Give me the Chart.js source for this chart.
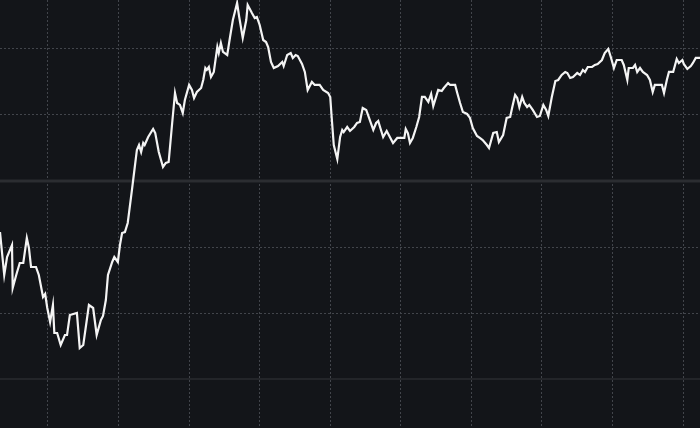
<!DOCTYPE html>
<html>
<head>
<meta charset="utf-8">
<script src="https://cdn.jsdelivr.net/npm/chart.js@4"></script>
<style>
  html, body { margin: 0; padding: 0; background: #131519; }
  canvas { display: block; }
</style>
</head>
<body>
<canvas id="chart" width="700" height="428"></canvas>
<script>
// trading day of each sample (day 0 = first vertical grid line)
const days = [
  -68, -62, -58, -51, -50, -45, -40, -35, -30, -27, -24, -17, -13, -7, -4, -1,
  3, 7, 9, 13, 18, 24, 27, 31, 41, 45, 50, 55, 58, 64, 69, 75, 78, 82, 85, 91,
  94, 99, 102, 105, 109, 113, 119, 123, 126, 129, 132, 135, 137, 142, 149, 152,
  157, 163, 167, 171, 176, 180, 183, 187, 191, 194, 200, 204, 207, 211, 217, 220,
  223, 225, 228, 231, 235, 238, 240, 242, 245, 248, 254, 258, 262, 268, 271, 276,
  281, 283, 289, 293, 296, 300, 305, 309, 312, 316, 320, 326, 332, 334, 339, 344,
  347, 351, 354, 360, 364, 368, 374, 378, 385, 390, 397, 400, 402, 405, 410, 414,
  417, 419, 424, 428, 434, 438, 442, 446, 451, 455, 461, 465, 468, 471, 475, 480,
  483, 489, 495, 499, 505, 507, 510, 513, 517, 522, 526, 530, 534, 539, 543, 546,
  553, 558, 561, 567, 570, 577, 580, 584, 588, 594, 598, 602, 608, 612, 616, 622,
  625, 631, 636, 639, 645, 650, 655, 658, 662, 665, 668, 672, 675, 679, 682, 687,
  693, 697, 702, 706, 709, 714, 719, 723, 728, 733, 736, 740, 744, 750, 754, 758,
  761, 765, 771, 775, 779, 785, 789, 794, 798, 802, 806, 813, 816, 821, 823, 829,
  832, 835, 839, 843, 849, 853, 857, 860, 866, 870, 873, 877, 880, 886, 891, 894,
  899, 901, 906, 911, 914, 918, 924
];
const prices = [
  112.27, 105.76, 108.48, 110.30, 103.79, 105.76, 107.58, 107.58, 111.36, 109.85, 106.97, 106.97, 105.76, 102.42, 102.88, 100.76,
  98.64, 101.21, 96.97, 96.97, 95.15, 96.67, 96.67, 99.70, 100.00, 94.70, 95.15, 98.94, 101.21, 100.76, 96.67, 98.94, 99.55, 101.97, 105.76, 107.73,
  108.48, 107.73, 110.30, 112.12, 112.27, 113.64, 118.64, 122.12, 124.70, 125.45, 124.39, 125.76, 125.45, 126.67, 127.88, 127.27,
  124.39, 122.12, 122.73, 122.88, 128.79, 133.33, 131.82, 131.52, 130.30, 132.27, 134.55, 133.79, 132.58, 133.48, 134.09, 135.30,
  137.12, 136.82, 137.27, 135.76, 136.52, 138.79, 140.30, 139.39, 140.91, 139.55, 139.09, 141.82, 144.39, 146.97, 144.85, 141.67,
  144.39, 146.67, 145.45, 144.70, 144.85, 143.64, 141.36, 141.06, 140.30, 138.03, 137.12, 137.42, 138.03, 137.42, 139.09, 139.39,
  138.64, 139.09, 138.94, 137.73, 136.52, 133.79, 135.00, 134.55, 134.55, 133.79, 133.33, 132.73, 129.70, 125.45, 123.33, 126.67,
  127.73, 127.42, 128.18, 127.58, 128.18, 128.79, 128.94, 131.06, 130.76, 129.55, 127.73, 128.79, 129.09, 128.03, 126.67, 127.58,
  126.97, 125.76, 126.52, 126.52, 126.52, 127.88, 127.27, 125.76, 126.52, 128.18, 129.70, 132.73, 132.73, 131.97, 133.18, 131.36,
  133.79, 133.64, 134.09, 134.85, 134.55, 134.55, 133.33, 131.82, 130.45, 130.15, 129.55, 128.03, 126.82, 126.52, 126.21, 125.45,
  125.00, 127.27, 127.42, 125.91, 126.97, 129.55, 129.70, 131.21, 133.03, 132.58, 131.21, 132.73, 131.82, 131.21, 131.52, 130.76,
  129.70, 129.85, 131.52, 130.76, 129.85, 132.73, 135.15, 135.30, 136.06, 136.52, 136.36, 135.61, 135.76, 136.36, 136.06, 136.82,
  136.52, 137.27, 137.27, 137.58, 137.73, 138.33, 139.39, 140.00, 138.64, 137.12, 138.33, 138.33, 137.58, 135.30, 137.12, 137.12,
  137.58, 136.52, 137.12, 136.52, 136.06, 135.30, 133.48, 134.55, 134.55, 134.55, 133.33, 135.30, 136.52, 136.52, 138.48, 137.88,
  138.33, 137.73, 136.97, 137.42, 137.88, 138.64, 138.64
];
const dayTicks = [0, 100, 200, 300, 400, 500, 600, 700, 800, 900];
const priceTicks = [90, 100, 110, 120, 130, 140];
const solidLevels = [120, 90];
const solidColors = ['#2b2d31', '#232529'];
const solidWidths = [3, 2];

const solidLines = {
  id: 'solidLines',
  beforeDatasetsDraw(chart) {
    const ctx = chart.ctx;
    const area = chart.chartArea;
    const y = chart.scales.y;
    ctx.save();
    solidLevels.forEach((lvl, i) => {
      const py = Math.round(y.getPixelForValue(lvl));
      ctx.strokeStyle = solidColors[i];
      ctx.lineWidth = solidWidths[i];
      ctx.beginPath();
      ctx.moveTo(area.left, py);
      ctx.lineTo(area.right, py);
      ctx.stroke();
    });
    ctx.restore();
  }
};

const dotted = '#42454b';

new Chart(document.getElementById('chart'), {
  type: 'line',
  data: {
    datasets: [{
      data: days.map((d, i) => ({x: d, y: prices[i]})),
      borderColor: '#f4f4f4',
      borderWidth: 2.2,
      pointRadius: 0,
      tension: 0,
      fill: false
    }]
  },
  options: {
    responsive: false,
    animation: false,
    devicePixelRatio: 1,
    layout: { padding: 0 },
    plugins: { legend: { display: false }, tooltip: { enabled: false } },
    scales: {
      x: {
        type: 'linear',
        min: -68,
        max: 924,
        afterBuildTicks: s => { s.ticks = dayTicks.map(v => ({value: v})); },
        ticks: { display: false },
        grid: { color: dotted, lineWidth: 1, drawTicks: false },
        border: { display: false, dash: [2, 2] }
      },
      y: {
        min: 82.58,
        max: 147.42,
        afterBuildTicks: s => { s.ticks = priceTicks.map(v => ({value: v})); },
        ticks: { display: false },
        grid: {
          color: c => solidLevels.includes(c.tick && c.tick.value) ? 'rgba(0,0,0,0)' : dotted,
          lineWidth: 1,
          drawTicks: false
        },
        border: { display: false, dash: [2, 2] }
      }
    }
  },
  plugins: [solidLines]
});
</script>
</body>
</html>
